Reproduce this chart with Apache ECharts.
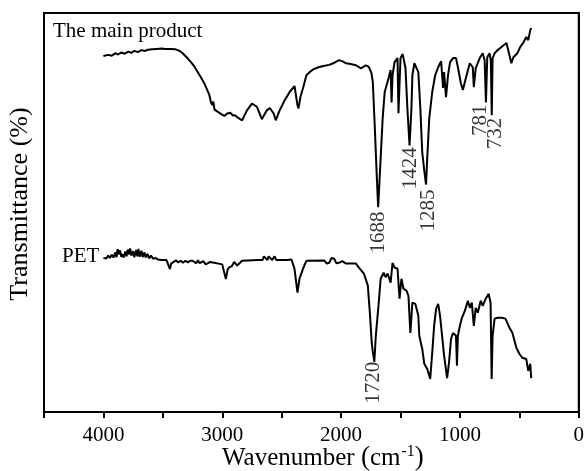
<!DOCTYPE html>
<html><head><meta charset="utf-8">
<script src="https://cdn.jsdelivr.net/npm/echarts@6/dist/echarts.min.js"></script>
<style>html,body{margin:0;padding:0;background:#fff}#c{width:587px;height:471px}</style>
</head><body><div id="c"></div>
<script>
// Main product spectrum (wavenumber cm-1, transmittance a.u.)
var mainWavenumber = [4000,3960,3930,3900,3875,3850,3820,3790,3767,3740,3710,3680,3650,3625,3590,3550,3510,3483,3440,3392,3360,3333,3300,3267,3235,3208,3180,3150,3125,3108,3095,3083,3075,3065,3058,3040,3025,3005,2983,2958,2933,2910,2892,2875,2833,2792,2750,2708,2667,2625,2600,2567,2550,2517,2475,2433,2392,2367,2358,2342,2317,2292,2260,2233,2190,2150,2100,2067,2017,1983,1958,1920,1875,1833,1792,1767,1745,1733,1717,1700,1688,1667,1650,1633,1600,1583,1575,1567,1550,1525,1517,1500,1483,1475,1458,1442,1424,1408,1400,1383,1367,1350,1333,1317,1300,1285,1275,1258,1233,1208,1183,1158,1142,1133,1117,1100,1083,1058,1033,1017,992,975,950,917,892,883,867,833,808,792,781,770,750,740,732,725,708,683,650,608,592,567,550,517,492,467,442,425,408,400];
var mainTransmittance = [89.2,89.5,89.3,89.9,89.6,90.1,89.8,90.3,90.0,90.5,90.2,90.7,90.5,90.8,90.9,91.0,91.1,91.0,91.0,90.9,90.5,89.9,88.9,87.8,86.6,85.3,83.9,82.3,80.6,79.4,77.6,76.9,77.8,75.8,76.1,75.3,74.9,74.6,74.2,74.8,75.0,74.3,74.4,73.9,73.1,75.6,77.3,76.5,73.4,75.6,76.2,74.8,73.1,75.6,78.1,80.2,81.7,76.9,76.1,79.0,81.5,84.4,85.3,85.9,86.4,86.7,87.0,87.4,88.2,87.8,87.4,87.2,86.9,86.1,86.9,86.5,85.0,82.7,71.9,59.3,51.3,63.6,73.6,80.2,83.7,85.7,77.6,84.4,87.7,88.7,74.9,88.7,89.7,88.7,86.2,76.1,66.8,76.1,84.4,87.4,87.7,85.2,76.1,65.1,60.5,57.0,63.6,73.6,80.2,84.4,86.4,87.9,81.2,85.2,78.9,84.4,87.7,88.7,88.7,86.4,82.4,80.7,83.7,87.4,86.4,81.4,86.2,88.7,89.9,88.2,77.6,88.9,89.9,88.0,74.4,88.7,89.9,90.7,91.5,92.5,92.0,87.4,88.9,89.9,91.5,92.5,94.0,93.2,95.7,96.2];

// PET spectrum
var petWavenumber = [4000,3990,3975,3960,3945,3930,3915,3900,3890,3880,3870,3860,3850,3840,3830,3815,3805,3795,3785,3775,3765,3750,3740,3725,3715,3705,3695,3680,3670,3655,3645,3630,3615,3600,3580,3560,3540,3510,3470,3455,3440,3430,3410,3390,3370,3350,3330,3310,3290,3270,3250,3220,3205,3190,3160,3140,3100,3000,2990,2970,2955,2940,2920,2900,2875,2833,2700,2660,2650,2620,2610,2580,2560,2545,2450,2417,2392,2367,2350,2317,2292,2142,2120,2100,2080,2058,2040,2017,1990,1958,1875,1850,1808,1775,1758,1742,1735,1720,1708,1683,1667,1642,1625,1608,1583,1567,1550,1525,1508,1492,1475,1450,1433,1417,1400,1375,1350,1342,1317,1300,1275,1250,1233,1217,1200,1183,1167,1150,1133,1108,1092,1075,1058,1033,1025,1017,1000,983,958,933,917,900,883,867,850,825,808,783,758,742,733,725,708,683,650,617,583,558,525,500,475,442,425,408,400];
var petTransmittance = [38.6,39.0,38.5,39.2,38.6,39.4,38.7,40.0,38.8,40.8,39.5,40.5,38.9,39.6,38.7,40.2,39.0,40.7,39.5,41.0,39.2,40.3,38.8,40.6,39.0,40.9,38.9,40.4,38.8,40.0,38.7,39.6,38.5,39.2,38.4,38.6,38.2,38.1,38.1,38.1,35.8,37.2,37.6,38.0,37.5,37.9,37.4,37.9,37.5,37.9,37.9,37.3,38.0,37.3,37.8,37.0,37.6,37.0,36.5,33.3,35.7,36.3,36.5,37.6,36.7,37.9,38.1,38.1,39.0,38.1,39.0,38.1,39.0,38.1,38.1,38.2,35.9,29.9,33.4,36.2,37.9,38.0,37.2,37.4,38.6,38.4,37.3,37.4,37.8,37.2,37.2,36.2,34.7,31.7,24.9,17.3,15.5,12.6,19.0,27.4,33.4,34.9,33.8,34.7,32.4,37.4,36.2,35.9,28.4,33.4,30.9,30.4,29.1,19.8,27.4,27.1,24.1,19.1,15.8,12.1,10.8,8.3,14.8,21.6,25.9,27.1,24.1,19.1,14.1,8.5,12.3,18.3,19.8,19.1,11.6,19.1,21.6,23.6,25.4,27.9,26.1,27.4,21.6,26.1,24.9,27.9,26.6,28.4,29.6,27.4,8.3,19.1,23.4,23.6,23.6,23.4,21.1,19.8,16.1,14.6,13.6,13.3,10.3,12.1,8.5];

// Peak annotations: label text with its anchor (wavenumber, transmittance)
var peakLabels = ['1688','1424','1285','781','732','1720'];
var peakLabelWave = [1683,1417,1267,825,700,1725];
var peakLabelT = [45.0,61.1,50.5,73.1,69.8,7.3];

var xTicks = [4000,3000,2000,1000,0];

function pairs(a,b){var r=[];for(var i=0;i<a.length;i++)r.push([a[i],b[i]]);return r;}
var FONT = 'Liberation Serif';
var chart = echarts.init(document.getElementById('c'), null, {renderer:'canvas'});
var lab = [];
for (var i=0;i<peakLabels.length;i++) lab.push({value:[peakLabelWave[i],peakLabelT[i]], name:peakLabels[i]});
chart.setOption({
  animation:false,
  grid:{left:44,right:2,top:13,bottom:59,show:true,borderColor:'#000',borderWidth:2,backgroundColor:'transparent'},
  xAxis:{type:'value',inverse:true,min:0,max:4500,interval:500,
    axisLine:{show:true,lineStyle:{color:'#000',width:2}},
    axisTick:{show:true,inside:false,length:6,lineStyle:{color:'#000',width:2}},
    splitLine:{show:false},
    axisLabel:{margin:13,fontFamily:FONT,fontSize:21,color:'#000',
      formatter:function(v){return xTicks.indexOf(v)>=0?String(v):'';}}
  },
  yAxis:{type:'value',min:0,max:100,
    axisLine:{show:true,lineStyle:{color:'#000',width:2}},
    axisTick:{show:false},axisLabel:{show:false},splitLine:{show:false}},
  graphic:[
    {type:'text',left:53,top:21,style:{text:'The main product',fontFamily:FONT,fontSize:21,fill:'#000'}},
    {type:'text',left:62,top:246,style:{text:'PET',fontFamily:FONT,fontSize:21,fill:'#000'}},
    {type:'text',x:20,y:204,rotation:Math.PI/2,style:{text:'Transmittance (%)',fontFamily:FONT,fontSize:26,fill:'#000',align:'center',verticalAlign:'middle'}},
    {type:'text',left:222,top:444,style:{text:'Wavenumber {p|(}cm{s|-1}{p|)}',fontFamily:FONT,fontSize:25,fill:'#000',
      rich:{p:{fontFamily:FONT,fontSize:27,fill:'#000'},s:{fontFamily:FONT,fontSize:16,fill:'#000',verticalAlign:'top',padding:[0,0,12,1]}}}}
  ],
  series:[
    {type:'line',data:pairs(mainWavenumber,mainTransmittance),showSymbol:false,lineStyle:{color:'#000',width:2},silent:true},
    {type:'line',data:pairs(petWavenumber,petTransmittance),showSymbol:false,lineStyle:{color:'#000',width:2},silent:true},
    {type:'scatter',data:lab,symbolSize:0,silent:true,
      label:{show:true,position:'inside',rotate:90,formatter:'{b}',fontFamily:FONT,fontSize:21,color:'#000'}}
  ]
});
</script></body></html>
